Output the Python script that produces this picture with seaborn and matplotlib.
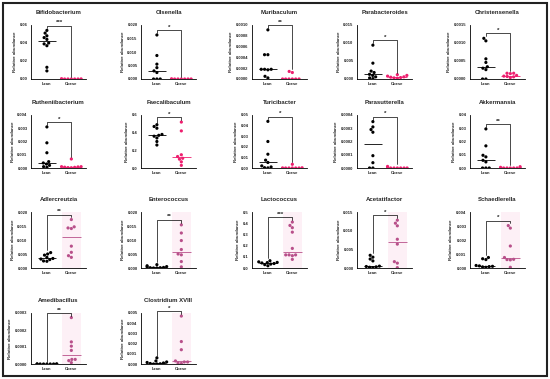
import numpy as np
import pandas as pd
import matplotlib
matplotlib.use("Agg")
import matplotlib.pyplot as plt
from matplotlib.patches import Rectangle
import seaborn as sns

# values (relative abundance per mouse)
taxa = ["Bifidobacterium", "Olsenella", "Muribaculum", "Parabacteroides", "Christensenella",
        "Rutheniibacterium", "Faecalibaculum", "Turicibacter", "Parasutterella", "Akkermansia",
        "Adlercreutzia", "Enterococcus", "Lactococcus", "Acetatifactor", "Schaedlerella",
        "Amedibacillus", "Clostridium XVIII"]

lean = [
    [0.054, 0.051, 0.048, 0.046, 0.044, 0.040, 0.039, 0.037, 0.013, 0.009],
    [0.0163, 0.0087, 0.0055, 0.0042, 0.003, 0.0024, 0, 0, 0],
    [0.00091, 0.00045, 0.00045, 0.00018, 0.00018, 0.00018, 0.00017, 0.00005, 0.00002],
    [0.0094, 0.0044, 0.0022, 0.0018, 0.0013, 0.0010, 0.0006, 0.0003, 0.0001],
    [0.00113, 0.00106, 0.00056, 0.00046, 0.00034, 0.00030, 0.00026, 0, 0],
    [0.0031, 0.0019, 0.00115, 0.00048, 0.00038, 0.0003, 0.0002, 0.0001, 0.00005],
    [0.49, 0.47, 0.45, 0.38, 0.37, 0.36, 0.34, 0.30, 0.26],
    [0.044, 0.025, 0.013, 0.0074, 0.0052, 0.002, 0.001, 0.0003, 0.0001],
    [0.00035, 0.00031, 0.00029, 0.00027, 0.000093, 0.00004, 0, 0],
    [0.0295, 0.0167, 0.0096, 0.0084, 0.0058, 0.0046, 0, 0, 0],
    [0.0055, 0.0050, 0.0046, 0.0038, 0.0034, 0.0032, 0.0030, 0.0025, 0.0024],
    [0.0012, 0.0008, 0.0005, 0.0004, 0.0002, 0.0001, 0.0001, 0, 0],
    [0.065, 0.055, 0.05, 0.048, 0.045, 0.04, 0.035, 0.03, 0.02],
    [0.0034, 0.0029, 0.0024, 0.0019, 0.0005, 0.0004, 0.0003, 0.0002, 0.0001],
    [0.00075, 0.00066, 0.0006, 0.00018, 0.00015, 0.00012, 0.0001, 0.00008, 0.00005],
    [0, 0, 0, 0, 0, 0, 0, 0, 0],
    [0.0006, 0.0003, 0.0002, 0.00015, 0.0001, 0.00005, 0.00002, 0, 0],
]

obese = [
    [0, 0, 0, 0, 0.0002, 0, 0.0001, 0],
    [0, 0, 0, 0, 0, 0, 0, 0],
    [0.00014, 0.00012, 0, 0, 0, 0, 0, 0],
    [0.0012, 0.0010, 0.0008, 0.0006, 0.0005, 0.0004, 0.0003, 0.0002],
    [0.00016, 0.00016, 0.00015, 0.00010, 0.00008, 0.00007, 0.00006, 0.00004],
    [0.00068, 0.0001, 0.0001, 0.00008, 0.00006, 0.00005, 0.00003, 0.00002],
    [0.52, 0.42, 0.15, 0.13, 0.11, 0.10, 0.07, 0.03],
    [0.0035, 0.0002, 0.0001, 0, 0, 0, 0, 0],
    [0.000012, 0, 0, 0, 0, 0, 0, 0],
    [0.001, 0.0005, 0, 0, 0, 0, 0, 0],
    [0.0173, 0.0147, 0.0143, 0.0141, 0.0078, 0.0056, 0.0044, 0.0038],
    [0.0154, 0.0125, 0.0098, 0.0066, 0.0050, 0.0047, 0.0023, 0.0004],
    [0.41, 0.38, 0.36, 0.32, 0.175, 0.117, 0.117, 0.117, 0.11, 0.077],
    [0.0128, 0.0120, 0.0113, 0.0077, 0.0064, 0.0017, 0.0013, 0.0001],
    [0.00303, 0.00285, 0.00157, 0.00075, 0.00062, 0.0006, 0.00058, 0.00005],
    [0.000273, 0.00013, 0.000105, 0.00008, 0.000027, 0.000027, 0.000008, 0.00002],
    [0.0047, 0.0022, 0.0014, 0.0003, 0.0002, 0.0002, 0.0001, 0.00005],
]

y_max = [0.06, 0.020, 0.0010, 0.015, 0.0015, 0.004, 0.6, 0.05, 0.0004, 0.04,
         0.020, 0.020, 0.5, 0.015, 0.004, 0.0003, 0.005]
y_step = [0.02, 0.005, 0.0002, 0.005, 0.0005, 0.001, 0.2, 0.01, 0.0001, 0.01,
          0.005, 0.005, 0.1, 0.005, 0.001, 0.0001, 0.001]
decimals = [2, 3, 4, 3, 4, 3, 1, 2, 4, 2, 3, 3, 1, 3, 3, 4, 3]
stars = ["***", "*", "**", "*", "*", "*", "*", "*", "*", "**",
         "**", "**", "***", "*", "*", "**", "*"]
groups = ["Lean", "Obese"]

sns.set_style("white")
plt.rcParams['font.family'] = ['Liberation Sans', 'DejaVu Sans']

fig = plt.figure(figsize=(5.5, 3.79), dpi=100)
W, H = 550, 379
col_left = [31, 141, 252, 357, 470]
row_top = [25, 115, 212, 313]
row_bot = [79, 168, 268, 364]
ax_w = 55

for k, name in enumerate(taxa):
    r, c = divmod(k, 5)
    ax = fig.add_axes([col_left[c] / W, 1 - row_bot[r] / H, ax_w / W, (row_bot[r] - row_top[r]) / H])
    pink = '#ee1f6f' if r < 2 else '#b8508a'
    if r >= 2:
        ax.axvspan(0.62, 1.38, color='#fdf0f6', lw=0, zorder=0)

    df = pd.DataFrame({
        'group': ['Lean'] * len(lean[k]) + ['Obese'] * len(obese[k]),
        'value': lean[k] + obese[k],
    })
    ax.set_ylim(0, y_max[k])
    sns.swarmplot(data=df, x='group', y='value', hue='group', order=groups,
                  palette={'Lean': 'black', 'Obese': pink}, size=2.3,
                  legend=False, ax=ax, zorder=3, warn_thresh=1)

    # median lines
    for i, vals in enumerate([lean[k], obese[k]]):
        ax.hlines(np.median(vals), i - 0.38, i + 0.38,
                  color='black' if i == 0 else pink, lw=0.6, zorder=4)

    # significance bracket
    rng = y_max[k]
    top = max(max(lean[k]), max(obese[k])) + 0.09 * rng
    top = min(top, rng * 1.05)
    ly = max(lean[k]) + 0.04 * rng
    ry = max(obese[k]) + 0.04 * rng
    ax.plot([0, 0, 1, 1], [min(ly, top), top, top, min(ry, top)],
            color='black', lw=0.5, clip_on=False, zorder=5)
    ax.text(0.5, top + 0.01 * rng, stars[k], ha='center', va='bottom',
            fontsize=4.5, fontweight='bold', clip_on=False)

    ax.set_xlim(-0.65, 1.6)
    ticks = np.arange(0, y_max[k] + y_step[k] / 2, y_step[k])
    ax.set_yticks(ticks)
    ax.set_yticklabels([f"{t:.{decimals[k]}f}" for t in ticks])
    ax.set_title(name, fontsize=4.3, fontweight='bold', pad=8)
    ax.set_xlabel('')
    ax.set_ylabel('Relative abundance', fontsize=3.2, fontweight='bold', labelpad=2)
    ax.tick_params(axis='both', labelsize=3.0, length=1.5, width=0.5, pad=1)
    for lab in ax.get_xticklabels() + ax.get_yticklabels():
        lab.set_fontweight('bold')
    sns.despine(ax=ax)
    for s in ['left', 'bottom']:
        ax.spines[s].set_linewidth(0.6)
        ax.spines[s].set_color('black')
    ax.set_facecolor('none')

# outer frame
fig.patches.append(Rectangle((3 / W, 3 / H), 544 / W, 373 / H, transform=fig.transFigure,
                             fill=False, edgecolor='#222222', lw=1.5))

fig.savefig('out.png', dpi=100)
